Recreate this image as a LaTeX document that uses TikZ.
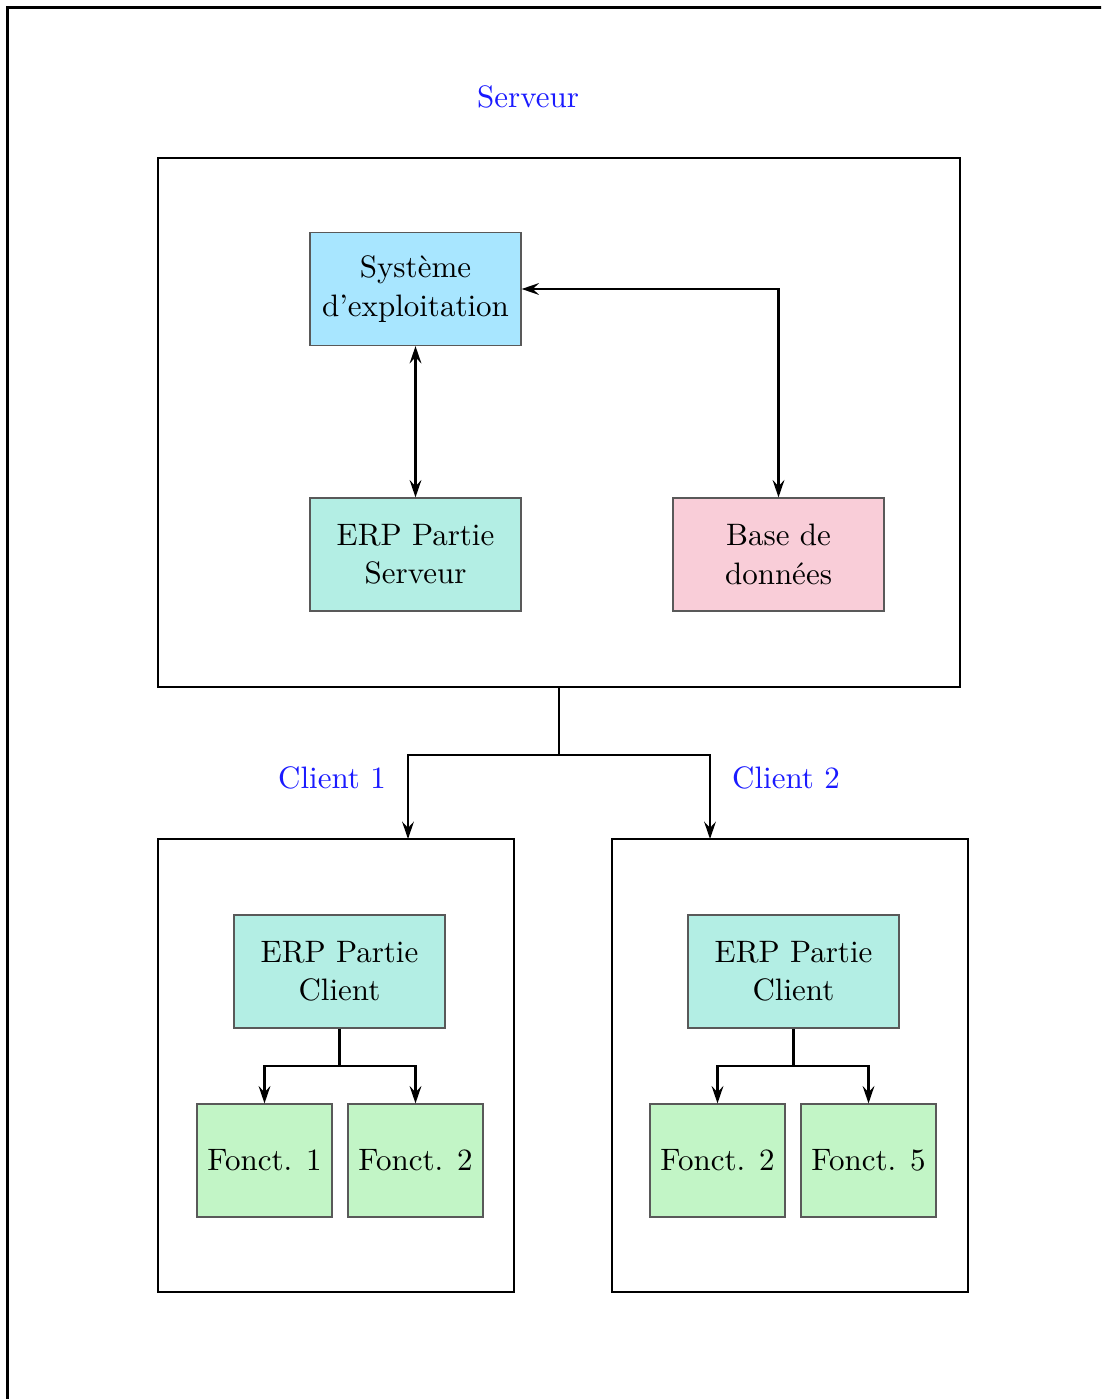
\documentclass[tikz,border=0pt]{standalone}
\usetikzlibrary{arrows.meta}
\definecolor{sysblue}{HTML}{A8E6FF}
\definecolor{erpteal}{HTML}{B3EEE4}
\definecolor{dbpink}{HTML}{F9CDD8}
\definecolor{fgreen}{HTML}{C2F5C6}
\definecolor{lblblue}{HTML}{1A1AFF}
\begin{document}
\begin{tikzpicture}[x=0.3226pt,y=-0.3226pt,
  font=\fontsize{10}{12.4}\selectfont,
  box/.style={draw=black!65,line width=0.4pt,inner sep=0pt,align=center,
    minimum width=68.07pt,minimum height=36.45pt},
  fbox/.style={box,minimum width=43.55pt},
  frame/.style={draw=black,line width=0.7pt,inner sep=0pt},
  lbl/.style={text=lblblue,inner sep=0pt},
  tip/.style={Stealth[length=5.6pt,width=3.8pt,inset=2pt]},
  conn/.style={line width=0.7pt,-{Stealth[length=5.6pt,width=3.8pt,inset=2pt]}},
  bconn/.style={line width=0.7pt,{Stealth[length=5.6pt,width=3.8pt,inset=2pt]}-{Stealth[length=5.6pt,width=3.8pt,inset=2pt]}},
  plain/.style={line width=0.7pt}]
\useasboundingbox (0,0) rectangle (1101,1399);
\begin{scope}
\clip (0,0) rectangle (1101,1399);
\draw[line width=0.7pt] (7.5,1430) -- (7.5,7.5) -- (1130,7.5);
\end{scope}

\node[lbl] (lserv) at (528,97) {Serveur};
\node[frame,minimum width=258.7pt,minimum height=170.7pt] (srv) at (559,422.5) {};
\node[box,fill=sysblue] (sys) at (415.5,289) {Système\\d'exploitation};
\node[box,fill=erpteal] (erps) at (415.5,554.5) {ERP Partie\\Serveur};
\node[box,fill=dbpink] (db) at (778.5,554.5) {Base de\\données};

\draw[bconn] (sys.south) -- (erps.north);
\draw[bconn] (sys.east) -| (db.north);

\node[lbl] (lc1) at (332,778) {Client 1};
\node[lbl] (lc2) at (786,778) {Client 2};
\node[frame,minimum width=114.8pt,minimum height=146.1pt] (c1) at (336,1065.5) {};
\node[frame,minimum width=114.8pt,minimum height=146.1pt] (c2) at (790,1065.5) {};

\coordinate (split) at (559,755);
\coordinate (c1in) at (408,839);
\coordinate (c2in) at (710,839);
\draw[plain] (srv.south) -- (split);
\draw[conn] (split) -| (c1in);
\draw[conn] (split) -| (c2in);

\node[box,fill=erpteal] (erpc1) at (339.5,971.5) {ERP Partie\\Client};
\node[box,fill=erpteal] (erpc2) at (793.5,971.5) {ERP Partie\\Client};
\node[fbox,fill=fgreen] (f11) at (264.5,1160.5) {Fonct. 1};
\node[fbox,fill=fgreen] (f12) at (415.5,1160.5) {Fonct. 2};
\node[fbox,fill=fgreen] (f22) at (717.5,1160.5) {Fonct. 2};
\node[fbox,fill=fgreen] (f25) at (868.5,1160.5) {Fonct. 5};

\coordinate (s1) at (339.5,1066);
\coordinate (s2) at (793.5,1066);
\draw[plain] (erpc1.south) -- (s1);
\draw[conn] (s1) -| (f11.north);
\draw[conn] (s1) -| (f12.north);
\draw[plain] (erpc2.south) -- (s2);
\draw[conn] (s2) -| (f22.north);
\draw[conn] (s2) -| (f25.north);
\end{tikzpicture}
\end{document}
